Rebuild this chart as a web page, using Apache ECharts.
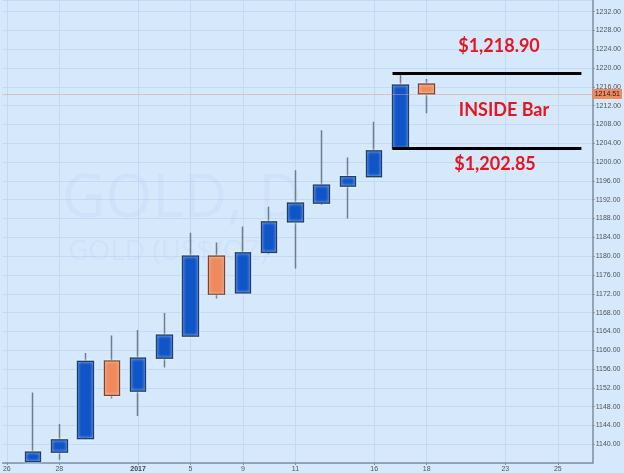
<!DOCTYPE html>
<html>
<head>
<meta charset="utf-8">
<script src="https://cdn.jsdelivr.net/npm/echarts@6/dist/echarts.min.js"></script>
<style>
html,body{margin:0;padding:0;background:#d5e8fc;}
#c{width:624px;height:473px;}
</style>
</head>
<body>
<div id="c"></div>
<script>
// Trading days shown on the time axis
const tradingDays = ['2016-12-26','2016-12-27','2016-12-28','2016-12-29','2016-12-30','2017-01-03','2017-01-04','2017-01-05','2017-01-06','2017-01-09','2017-01-10','2017-01-11','2017-01-12','2017-01-13','2017-01-16','2017-01-17','2017-01-18','2017-01-19','2017-01-20','2017-01-23','2017-01-24','2017-01-25'];
// Axis tick dates and their labels
const tickDates = ['2016-12-26','2016-12-28','2017-01-03','2017-01-05','2017-01-09','2017-01-11','2017-01-16','2017-01-18','2017-01-23','2017-01-25'];
const tickLabels = ['26','28','2017','5','9','11','16','18','23','25'];
// Daily candles (first candle's lower part is cut by the chart edge; visible extent used)
const candleDates = ['2016-12-27','2016-12-28','2016-12-29','2016-12-30','2017-01-03','2017-01-04','2017-01-05','2017-01-06','2017-01-09','2017-01-10','2017-01-11','2017-01-12','2017-01-13','2017-01-16','2017-01-17','2017-01-18'];
const openVals  = [1136.3, 1138.3, 1141.2, 1157.7, 1151.3, 1158.3, 1163.0, 1180.0, 1172.2, 1180.8, 1187.3, 1191.3, 1194.9, 1196.9, 1202.85, 1216.6];
const closeVals = [1138.3, 1140.9, 1157.6, 1150.4, 1158.3, 1163.2, 1180.0, 1171.9, 1180.7, 1187.3, 1191.3, 1195.1, 1196.9, 1202.4, 1216.4, 1214.51];
const lowVals   = [1136.3, 1136.7, 1141.0, 1149.7, 1146.0, 1156.3, 1162.8, 1171.0, 1172.0, 1180.4, 1177.4, 1190.9, 1188.0, 1196.7, 1202.85, 1210.4];
const highVals  = [1151.0, 1144.3, 1159.4, 1163.1, 1164.3, 1167.9, 1185.0, 1182.9, 1186.3, 1190.5, 1198.3, 1206.8, 1201.0, 1208.6, 1218.9, 1217.7];
// Annotated levels
const levelValues = [1218.90, 1202.85];
const levelLabels = ['$1,218.90', '$1,202.85'];
const lastPrice = 1214.51;
const patternLabel = 'INSIDE Bar';
const yMin = 1136, yMax = 1234.49, yTickStep = 4;
const xMin = -0.162, xMax = 22.33;

const idx = d => tradingDays.indexOf(d);
const tickIdx = tickDates.map(idx);
const labelByIdx = {};
tickIdx.forEach((i, k) => labelByIdx[i] = tickLabels[k]);

const wickData = candleDates.map((d, i) => [idx(d), openVals[i], closeVals[i], lowVals[i], highVals[i]]);
const bodyData = candleDates.map((d, i) => [idx(d), openVals[i], closeVals[i], Math.min(openVals[i], closeVals[i]), Math.max(openVals[i], closeVals[i])]);

const barIdx = idx('2017-01-17');
const lineStart = barIdx - 0.3;
const lineEnd = tradingDays.length - 0.1;

const chart = echarts.init(document.getElementById('c'), null, {renderer: 'canvas'});
chart.setOption({
  animation: false,
  backgroundColor: '#d5e8fc',
  grid: {left: 0, right: 28, top: 0, bottom: 9.9, containLabel: false},
  xAxis: {
    type: 'value',
    min: xMin,
    max: xMax,
    axisLine: {show: true, onZero: false, lineStyle: {color: '#7f8e9c', width: 1.5}},
    axisTick: {show: true, length: 2, customValues: tickIdx, lineStyle: {color: '#7f8e9c'}},
    axisLabel: {
      customValues: tickIdx,
      fontSize: 7, color: '#555', margin: 3,
      fontFamily: 'Liberation Sans',
      formatter: v => {
        const t = labelByIdx[Math.round(v)] || '';
        return t === '2017' ? '{b|' + t + '}' : t;
      },
      rich: {b: {fontWeight: 'bold', fontSize: 7, color: '#444', fontFamily: 'Liberation Sans'}}
    },
    splitLine: {show: true, lineStyle: {color: '#c2daf4', width: 1}}
  },
  yAxis: {
    type: 'value',
    position: 'right',
    min: yMin, max: yMax, interval: yTickStep,
    axisLine: {show: true, onZero: false, lineStyle: {color: '#7f8e9c', width: 1.5}},
    axisTick: {show: true, length: 2, lineStyle: {color: '#7f8e9c'}},
    axisLabel: {
      fontSize: 7, color: '#555', margin: 3, fontFamily: 'Liberation Sans',
      showMinLabel: false, showMaxLabel: false,
      formatter: v => v.toFixed(2)
    },
    splitLine: {show: true, lineStyle: {color: '#c2daf4', width: 1}}
  },
  graphic: [
    {type: 'text', z: 1, left: 62, top: 170, style: {text: 'GOLD, D', fontSize: 60, fontFamily: 'Open Sans', fill: 'rgba(160,195,235,0.14)'}},
    {type: 'text', z: 1, left: 68, top: 238, style: {text: 'GOLD (US$/OZ)', fontSize: 28, fontFamily: 'Open Sans', fill: 'rgba(160,195,235,0.14)'}},
    {type: 'text', z: 100, x: 499, y: 46, style: {text: levelLabels[0], fontSize: 18, fontWeight: 'bold', fontFamily: 'Lato', fill: '#e8141e', align: 'center', verticalAlign: 'middle'}},
    {type: 'text', z: 100, x: 504, y: 110, style: {text: patternLabel, fontSize: 18, fontWeight: 'bold', fontFamily: 'Lato', fill: '#e8141e', align: 'center', verticalAlign: 'middle'}},
    {type: 'text', z: 100, x: 495, y: 164, style: {text: levelLabels[1], fontSize: 18, fontWeight: 'bold', fontFamily: 'Lato', fill: '#e8141e', align: 'center', verticalAlign: 'middle'}}
  ],
  series: [
    {
      type: 'candlestick',
      name: 'wicks',
      clip: true,
      data: wickData,
      encode: {x: 0, y: [1, 2, 3, 4]},
      barWidth: 16,
      itemStyle: {color: '#1055c8', color0: '#ef8a5e', borderColor: '#6d7e8e', borderColor0: '#6d7e8e', borderWidth: 1.5},
      markLine: {
        silent: true, symbol: 'none', animation: false,
        data: [
          [{coord: [xMin, lastPrice], lineStyle: {color: '#e59b80', type: 'dotted', width: 1},
            label: {show: true, position: 'end', formatter: lastPrice.toFixed(2), distance: 0, fontSize: 7, color: '#222', fontFamily: 'Liberation Sans', backgroundColor: '#ef8a5e', padding: [2, 2, 1, 2]}},
           {coord: [xMax, lastPrice]}],
          [{coord: [lineStart, levelValues[0]], lineStyle: {color: '#000', type: 'solid', width: 3}, label: {show: false}},
           {coord: [lineEnd, levelValues[0]]}],
          [{coord: [lineStart, levelValues[1]], lineStyle: {color: '#000', type: 'solid', width: 3}, label: {show: false}},
           {coord: [lineEnd, levelValues[1]]}]
        ]
      }
    },
    {
      type: 'candlestick',
      name: 'bodies',
      clip: true,
      data: bodyData,
      encode: {x: 0, y: [1, 2, 3, 4]},
      barWidth: 16,
      itemStyle: {color: '#1055c8', color0: '#ef8a5e', borderColor: '#1d3f6e', borderColor0: '#7a4530', borderWidth: 1.2,
        shadowBlur: 3, shadowColor: 'rgba(255,255,255,0.9)'}
    }
  ]
});
</script>
</body>
</html>
